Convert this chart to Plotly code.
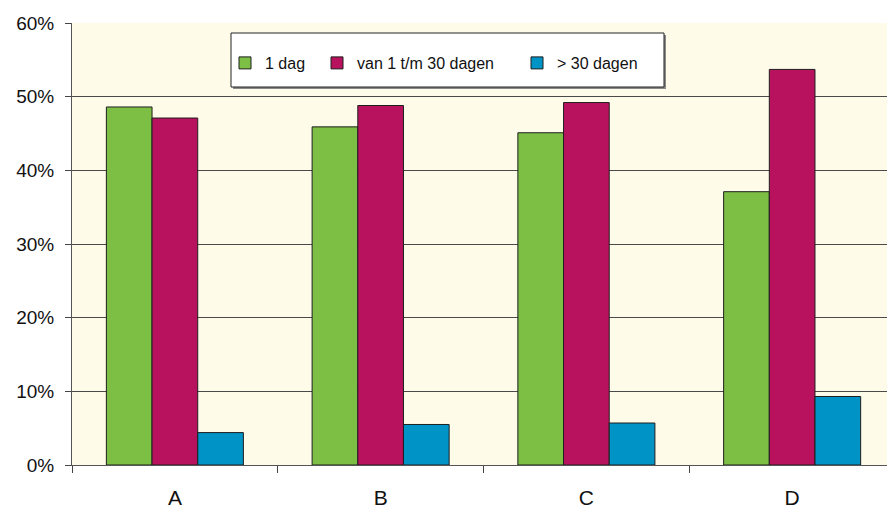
import plotly.graph_objects as go

# Share of cases by duration, per group
categories = ["A", "B", "C", "D"]
een_dag = [0.486, 0.459, 0.451, 0.371]
tot_30_dagen = [0.471, 0.488, 0.492, 0.537]
meer_30_dagen = [0.044, 0.055, 0.057, 0.093]

series = [
    ("1 dag", een_dag, "#7DBE45", "legend"),
    ("van 1 t/m 30 dagen", tot_30_dagen, "#B8125F", "legend2"),
    ("> 30 dagen", meer_30_dagen, "#0093C5", "legend3"),
]

W, H = 887, 508
ML, MR, MT, MB = 72, 0, 23, 43
PW, PH = W - ML - MR, H - MT - MB


def px_x(p):
    return (p - ML) / PW


def px_y(p):
    return (H - MB - p) / PH


fig = go.Figure()
for name, vals, color, leg in series:
    fig.add_trace(go.Bar(
        x=categories, y=vals, name=name, legend=leg,
        marker=dict(color=color, line=dict(color="#1e1e1e", width=1)),
    ))

font = "Liberation Sans, Arial, sans-serif"
leg_common = dict(
    orientation="h", yanchor="middle", xanchor="left",
    bgcolor="rgba(0,0,0,0)", borderwidth=0,
    font=dict(family=font, size=16, color="#111"),
)

fig.update_layout(
    width=W, height=H,
    margin=dict(l=ML, r=MR, t=MT, b=MB, pad=0),
    paper_bgcolor="white",
    plot_bgcolor="#FFFBE9",
    barmode="group",
    bargap=0.334,
    bargroupgap=0,
    showlegend=True,
    legend=dict(x=px_x(225), y=px_y(63), **leg_common),
    legend2=dict(x=px_x(317), y=px_y(63), **leg_common),
    legend3=dict(x=px_x(517), y=px_y(63), **leg_common),
    xaxis=dict(
        type="category",
        range=[-0.5, 3.461],
        tickson="boundaries",
        ticks="outside", ticklen=7, tickcolor="#444", tickwidth=1,
        showgrid=False,
        showline=True, linecolor="#555", linewidth=1,
        tickfont=dict(family=font, size=21, color="#111"),
        ticklabelstandoff=14,
    ),
    yaxis=dict(
        range=[0, 0.6], dtick=0.1, tickformat=".0%",
        ticks="outside", ticklen=6, tickcolor="#444", tickwidth=1,
        showgrid=True, gridcolor="#4a4a4a", gridwidth=1,
        showline=True, linecolor="#555", linewidth=1,
        zeroline=False,
        tickfont=dict(family=font, size=19, color="#111"),
        ticklabelstandoff=7,
    ),
    shapes=[
        # legend frame with a soft drop shadow
        dict(type="rect", xref="paper", yref="paper",
             x0=px_x(233), x1=px_x(666), y0=px_y(89), y1=px_y(35),
             fillcolor="#8a8a8a", line=dict(width=0), layer="above"),
        dict(type="rect", xref="paper", yref="paper",
             x0=px_x(231), x1=px_x(664), y0=px_y(87), y1=px_y(33),
             fillcolor="white", line=dict(color="#222", width=1), layer="above"),
    ],
)

fig.write_html("out.html")
